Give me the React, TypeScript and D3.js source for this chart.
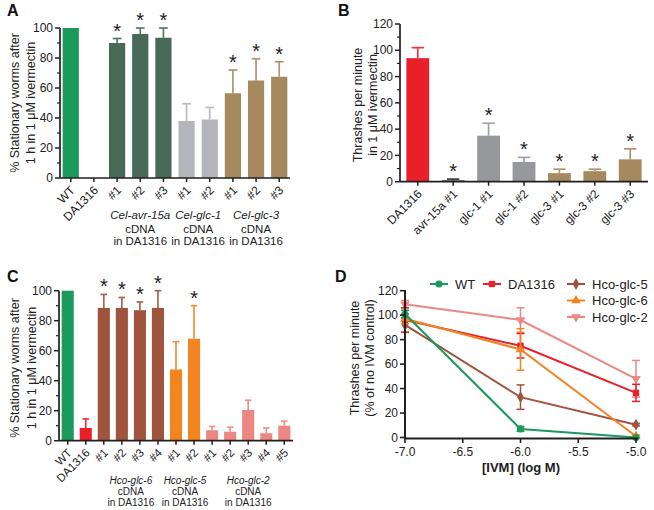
import React from "react";
import * as d3 from "d3";

const FONT = "'Liberation Sans', Arial, Helvetica, sans-serif";
const AXIS = "#231f20";

// ---------- Panel A ----------
const catsA = ["WT", "DA1316", "#1", "#2", "#3", "#1", "#2", "#1", "#2", "#3"];
const valsA = [100, 0, 90, 96, 93.5, 38, 39, 56.5, 65, 67.5];
const errA = [0, 0, 3, 4, 6.5, 11.5, 8, 15.5, 14.5, 10];
const starA = [0, 0, 1, 1, 1, 0, 0, 1, 1, 1];
const colA = ["#1b9a5c", "#e8202a", "#476b58", "#476b58", "#476b58", "#b3b5ba", "#b3b5ba", "#a5895f", "#a5895f", "#a5895f"];
const groupsA = [
  { name: "Cel-avr-15a", from: 2, to: 4 },
  { name: "Cel-glc-1", from: 5, to: 6 },
  { name: "Cel-glc-3", from: 7, to: 9 },
];

// ---------- Panel B ----------
const catsB = ["DA1316", "avr-15a #1", "glc-1 #1", "glc-1 #2", "glc-3 #1", "glc-3 #2", "glc-3 #3"];
const valsB = [94, 1, 35, 15, 6.5, 8, 17];
const errB = [8, 1, 9.5, 3.5, 3, 1.5, 8];
const starB = [0, 1, 1, 1, 1, 1, 1];
const colB = ["#e8202a", "#2b2b2b", "#96989c", "#96989c", "#a5895f", "#a5895f", "#a5895f"];

// ---------- Panel C ----------
const catsC = ["WT", "DA1316", "#1", "#2", "#3", "#4", "#1", "#2", "#1", "#2", "#3", "#4", "#5"];
const valsC = [100, 8.5, 88.5, 88.5, 87, 88.5, 47.5, 68, 7, 6, 20.5, 5, 10];
const errC = [0, 6, 9, 7, 5.5, 11.5, 18.5, 22, 2.5, 3, 6.5, 3.5, 3];
const starC = [0, 0, 1, 1, 1, 1, 0, 1, 0, 0, 0, 0, 0];
const colC = ["#1b9a5c", "#e8202a", "#a0533d", "#a0533d", "#a0533d", "#a0533d", "#f28421", "#f28421", "#ec8784", "#ec8784", "#ec8784", "#ec8784", "#ec8784"];
const groupsC = [
  { name: "Hco-glc-6", from: 2, to: 5 },
  { name: "Hco-glc-5", from: 6, to: 7 },
  { name: "Hco-glc-2", from: 8, to: 12 },
];

// ---------- Panel D ----------
const doseD = [-7, -6, -5];
const namesD = ["WT", "DA1316", "Hco-glc-5", "Hco-glc-6", "Hco-glc-2"];
const wtD = [101, 7, 0];
const wtErrD = [3, 2, 0];
const daD = [96, 75, 36.5];
const daErrD = [10, 10, 7];
const glc5D = [92, 33, 10.5];
const glc5ErrD = [6, 10, 1];
const glc6D = [97, 72, 1];
const glc6ErrD = [4, 17, 1];
const glc2D = [109, 96, 48];
const glc2ErrD = [3, 10, 15];
const colD = ["#1b9a5c", "#e8202a", "#a0533d", "#f28421", "#ec8784"];
const ticksXD = [-7, -6.5, -6, -5.5, -5];
const ticksYD = [0, 20, 40, 60, 80, 100, 120];

type BarProps = {
  cats: string[]; vals: number[]; errs: number[]; stars: number[]; cols: string[];
  x0: number; x1: number; y0: number; yTop: number; max: number; step: number;
  pi: number; po: number; catSize: number; tickSize: number;
  ylabel: string[]; ylx: number[]; ylc: number;
  groups?: { name: string; from: number; to: number }[];
  groupY?: number[]; groupSize?: number;
  labelDx: number; labelDy: number;
};

function BarPanel(p: BarProps) {
  const x = d3.scaleBand<number>().domain(d3.range(p.cats.length)).range([p.x0, p.x1]).paddingInner(p.pi).paddingOuter(p.po);
  const y = d3.scaleLinear().domain([0, p.max]).range([p.y0, p.yTop]);
  const major = d3.range(0, p.max + 0.001, p.step);
  const minor = d3.range(p.step / 2, p.max, p.step);
  const bw = x.bandwidth();
  return (
    <g fontFamily={FONT}>
      {p.vals.map((v, i) => {
        const cx = (x(i) as number) + bw / 2;
        const top = v + p.errs[i];
        return (
          <g key={i}>
            {p.errs[i] > 0 && (
              <g stroke={p.cols[i]} strokeWidth={1.7} opacity={0.9}>
                <line x1={cx} x2={cx} y1={y(v)} y2={y(top)} />
                <line x1={cx - bw * 0.27} x2={cx + bw * 0.27} y1={y(top)} y2={y(top)} />
              </g>
            )}
            {v > 0 && <rect x={x(i)} width={bw} y={y(v)} height={p.y0 - y(v)} fill={p.cols[i]} />}
            {p.stars[i] ? (
              <text x={cx} y={y(top) - 1} textAnchor="middle" fontSize={20} fill="#222">*</text>
            ) : null}
          </g>
        );
      })}
      {/* y axis */}
      <line x1={p.x0} x2={p.x0} y1={p.yTop} y2={p.y0} stroke={AXIS} strokeWidth={1.7} />
      {major.map((t) => (
        <g key={"M" + t}>
          <line x1={p.x0 - 5} x2={p.x0} y1={y(t)} y2={y(t)} stroke={AXIS} strokeWidth={1.5} />
          <text x={p.x0 - 7} y={y(t)} dy="0.35em" textAnchor="end" fontSize={p.tickSize} fill="#222">{t}</text>
        </g>
      ))}
      {minor.map((t) => (
        <line key={"m" + t} x1={p.x0 - 3} x2={p.x0} y1={y(t)} y2={y(t)} stroke={AXIS} strokeWidth={1.2} />
      ))}
      {/* x axis */}
      <line x1={p.x0} x2={p.x1} y1={p.y0} y2={p.y0} stroke={AXIS} strokeWidth={1.7} />
      {p.cats.map((c, i) => {
        const cx = (x(i) as number) + bw / 2;
        return (
          <g key={"c" + i}>
            <line x1={cx} x2={cx} y1={p.y0} y2={p.y0 + 4} stroke={AXIS} strokeWidth={1.5} />
            <text transform={`translate(${cx + p.labelDx},${p.y0 + p.labelDy}) rotate(-45)`} textAnchor="end" dy="0.35em" fontSize={p.catSize} fill="#222">{c}</text>
          </g>
        );
      })}
      {/* y label */}
      {p.ylabel.map((l, k) => (
        <text key={"yl" + k} transform={`translate(${p.ylx[k]},${p.ylc}) rotate(-90)`} textAnchor="middle" dy="0.35em" fontSize={12.5} fill="#222">{l}</text>
      ))}
      {p.groups && p.groupY && p.groups.map((g, k) => {
        const cx = ((x(g.from) as number) + (x(g.to) as number) + bw) / 2;
        return (
          <g key={"g" + k} fontSize={p.groupSize} fill="#222" textAnchor="middle">
            <text x={cx} y={p.groupY![0]} fontStyle="italic">{g.name}</text>
            <text x={cx} y={p.groupY![1]}>cDNA</text>
            <text x={cx} y={p.groupY![2]}>in DA1316</text>
          </g>
        );
      })}
    </g>
  );
}

function PanelD() {
  const x = d3.scaleLinear().domain([-7, -5]).range([405, 636]);
  const y = d3.scaleLinear().domain([0, 120]).range([437.5, 290.7]);
  const series = [
    { v: wtD, e: wtErrD, sym: d3.symbolCircle, rot: 0 },
    { v: daD, e: daErrD, sym: d3.symbolSquare, rot: 0 },
    { v: glc5D, e: glc5ErrD, sym: d3.symbolDiamond, rot: 0 },
    { v: glc6D, e: glc6ErrD, sym: d3.symbolTriangle, rot: 0 },
    { v: glc2D, e: glc2ErrD, sym: d3.symbolTriangle, rot: 180 },
  ];
  const line = d3.line<number>().x((_, i) => x(doseD[i])).y((d) => y(d));
  const drawOrder = [4, 2, 1, 3, 0];
  const legendPos = [
    { x: 430, y: 284 }, { x: 483, y: 284 }, { x: 567, y: 284 }, { x: 567, y: 300.5 }, { x: 567, y: 317 },
  ];
  return (
    <g fontFamily={FONT}>
      {drawOrder.map((si) => {
        const s = series[si];
        const path = d3.symbol().type(s.sym).size(40)();
        return (
          <g key={si} stroke={colD[si]} fill={colD[si]}>
            {s.v.map((v, i) =>
              s.e[i] > 0 ? (
                <g key={"e" + i} strokeWidth={1.5}>
                  <line x1={x(doseD[i])} x2={x(doseD[i])} y1={y(v - s.e[i])} y2={y(v + s.e[i])} />
                  <line x1={x(doseD[i]) - 4} x2={x(doseD[i]) + 4} y1={y(v + s.e[i])} y2={y(v + s.e[i])} />
                  <line x1={x(doseD[i]) - 4} x2={x(doseD[i]) + 4} y1={y(v - s.e[i])} y2={y(v - s.e[i])} />
                </g>
              ) : null
            )}
            <path d={line(s.v) as string} fill="none" strokeWidth={2} />
            {s.v.map((v, i) => (
              <path key={"p" + i} d={path as string} stroke="none" transform={`translate(${x(doseD[i])},${y(v)}) rotate(${s.rot})`} />
            ))}
          </g>
        );
      })}
      {/* axes */}
      <line x1={405} x2={405} y1={290} y2={438.5} stroke={AXIS} strokeWidth={2} />
      <line x1={404} x2={638} y1={438.5} y2={438.5} stroke={AXIS} strokeWidth={2} />
      {ticksYD.map((t) => (
        <g key={"y" + t}>
          <line x1={400} x2={405} y1={y(t)} y2={y(t)} stroke={AXIS} strokeWidth={1.6} />
          <text x={398} y={y(t)} dy="0.35em" textAnchor="end" fontSize={12} fill="#222">{t}</text>
        </g>
      ))}
      {ticksXD.map((t) => (
        <g key={"x" + t}>
          <line x1={x(t)} x2={x(t)} y1={438.5} y2={443} stroke={AXIS} strokeWidth={1.6} />
          <text x={x(t)} y={456} textAnchor="middle" fontSize={12} fill="#222">{t.toFixed(1)}</text>
        </g>
      ))}
      <text x={521} y={472} textAnchor="middle" fontSize={13} fontWeight="bold" fill="#222">[IVM] (log M)</text>
      <text transform="translate(355,358) rotate(-90)" textAnchor="middle" dy="0.35em" fontSize={12.5} fill="#222">Thrashes per minute</text>
      <text transform="translate(370,358) rotate(-90)" textAnchor="middle" dy="0.35em" fontSize={12.5} fill="#222">(% of no IVM control)</text>
      {/* legend */}
      {namesD.map((n, i) => {
        const lp = legendPos[i];
        const s = series[i];
        const path = d3.symbol().type(s.sym).size(40)();
        return (
          <g key={"l" + i}>
            <line x1={lp.x} x2={lp.x + 18} y1={lp.y} y2={lp.y} stroke={colD[i]} strokeWidth={2} />
            <path d={path as string} fill={colD[i]} transform={`translate(${lp.x + 9},${lp.y}) rotate(${s.rot})`} />
            <text x={lp.x + 25} y={lp.y} dy="0.35em" fontSize={13} fill="#222">{n}</text>
          </g>
        );
      })}
    </g>
  );
}

export default function App() {
  return (
    <svg width={654} height={510} style={{ position: "absolute", left: 0, top: 0, background: "#fff" }}>
      <rect width={654} height={510} fill="#fff" />
      <g fontFamily={FONT} fontWeight="bold" fontSize={16} fill="#111">
        <text x={7} y={16}>A</text>
        <text x={338} y={16}>B</text>
        <text x={7} y={282}>C</text>
        <text x={335} y={282}>D</text>
      </g>
      <BarPanel
        cats={catsA} vals={valsA} errs={errA} stars={starA} cols={colA}
        x0={60} x1={290} y0={178} yTop={28} max={100} step={20}
        pi={0.3} po={0.115} catSize={12} tickSize={12}
        ylabel={["% Stationary worms after", "1 h in 1 μM ivermectin"]} ylx={[15, 31]} ylc={103}
        groups={groupsA} groupY={[219, 233, 245]} groupSize={11.5}
        labelDx={2} labelDy={10}
      />
      <BarPanel
        cats={catsB} vals={valsB} errs={errB} stars={starB} cols={colB}
        x0={400} x1={648} y0={181.7} yTop={24} max={120} step={20}
        pi={0.356} po={0.18} catSize={12} tickSize={12}
        ylabel={["Thrashes per minute", "in 1 μM ivermectin"]} ylx={[358, 373]} ylc={105}
        labelDx={2} labelDy={10}
      />
      <BarPanel
        cats={catsC} vals={valsC} errs={errC} stars={starC} cols={colC}
        x0={59} x1={293} y0={440.7} yTop={290.7} max={100} step={20}
        pi={0.33} po={0.148} catSize={11.5} tickSize={12}
        ylabel={["% Stationary worms after", "1 h in 1 μM ivermectin"]} ylx={[15, 31.5]} ylc={368}
        groups={groupsC} groupY={[484, 495, 506]} groupSize={10}
        labelDx={2} labelDy={10}
      />
      <PanelD />
    </svg>
  );
}
